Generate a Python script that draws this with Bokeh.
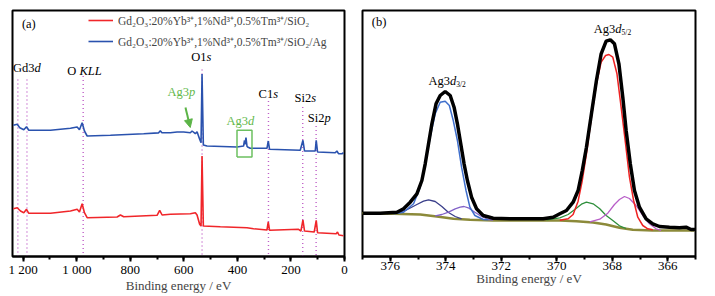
from bokeh.plotting import figure
from bokeh.layouts import row
from bokeh.models import (Range1d, SingleIntervalTicker, Legend, LegendItem,
                          Arrow, NormalHead, ColumnDataSource)
from bokeh.core.properties import value, field
from bokeh.embed import file_html
from bokeh.resources import INLINE

FONT = "Liberation Serif"

# ---------------- panel (a): survey spectra ----------------
survey_blue_e = [1237, 1222.4, 1212.7, 1197.8, 1187.7, 1179.1, 1098.1, 1023.5, 998.5, 989.9,
                 979.9, 971.3, 961.2, 874.3, 750, 695, 688, 682, 650.4, 625.4, 600.7, 575.7,
                 569.4, 557.1, 550.7, 541, 535.8, 532.1, 527.2, 513.4, 401.5, 376.9, 373.5,
                 371.5, 368, 364, 361.9, 351.9, 289.6, 284.7, 279.9, 165.3, 155.2, 149.3,
                 109.3, 105.6, 100.7, 34.7, 28.4, 22.4, 9.7, 3.7]
survey_blue_i = [131.2, 132.2, 128.8, 126.8, 129.8, 126.2, 126.2, 128.2, 129.5, 126.8,
                 133.8, 125.5, 120.5, 121.2, 122.8, 123.6, 125.8, 123.8, 123.8, 124.5, 124.5, 123.8,
                 125.5, 122.8, 124.8, 117.2, 113.8, 182.5, 111.5, 110.5, 109.5, 110.5, 116,
                 112, 119, 110, 109.5, 108.2, 108.2, 115.5, 107.2, 106.2, 116.2, 105.5,
                 105.5, 116.2, 104.5, 103.8, 105.5, 102.8, 102.8, 103.8]

survey_red_e = [1237, 1222.4, 1210.1, 1197.8, 1187.7, 1179.1, 1098.1, 1023.5, 998.5, 989.9,
                979.9, 971.3, 961.2, 849.3, 836.9, 824.6, 700, 690.3, 681.3, 650.4, 575.7,
                557.1, 550.7, 541, 535.8, 532.1, 527.2, 463.8, 364.2, 339.6, 289.6, 284.7,
                279.9, 171.6, 162.7, 155.2, 149.3, 113.1, 105.6, 100.7, 31, 26.1, 20.9, 3.7]
survey_red_i = [47.8, 48.8, 45.5, 43.8, 47.2, 43.2, 43.2, 45.5, 47.2, 44.5,
                52.8, 43.8, 38.8, 39.5, 41.5, 39.8, 41.2, 46.2, 41.5, 42.2, 42.8,
                43.8, 41.5, 32.2, 30.5, 100.5, 30.5, 29.8, 28.8, 27.8, 26.5, 34.5,
                26.2, 27.2, 25.5, 36.5, 25.5, 24.5, 36.2, 23.8, 22.8, 24.5, 21.5, 20.8]

peak_line_e = [1220, 1186, 976, 532, 284, 156, 106]
peak_line_top = [177, 177, 180.5, 187, 155.5, 149.5, 130.5]

legend_labels = ["Gd\u2082O\u2083:20%Yb\u00b3\u207a,1%Nd\u00b3\u207a,0.5%Tm\u00b3\u207a/SiO\u2082",
                 "Gd\u2082O\u2083:20%Yb\u00b3\u207a,1%Nd\u00b3\u207a,0.5%Tm\u00b3\u207a/SiO\u2082/Ag"]

a_ticks_override = {1200: "1 200", 1000: "1 000"}

# label: (pieces, energy, intensity, color)   pieces: (text, italic?)
a_labels = [
    ([("(a)", False)], 1179, 233, "black"),
    ([("Gd3", False), ("d", True)], 1186, 189, "black"),
    ([("O ", False), ("KLL", True)], 971, 186, "black"),
    ([("O1", False), ("s", True)], 534.7, 199.5, "black"),
    ([("Ag3", False), ("p", True)], 609, 165, "#62b84a"),
    ([("Ag3", False), ("d", True)], 389, 135.5, "#62b84a"),
    ([("C1", False), ("s", True)], 284.7, 162.2, "black"),
    ([("Si2", False), ("s", True)], 146.6, 158.8, "black"),
    ([("Si2", False), ("p", True)], 94.4, 138.2, "black"),
]
ag3p_arrow = dict(x_start=594, y_start=149, x_end=576, y_end=129)
ag3d_box = dict(left=401.5, right=345.5, top=126.2, bottom=99.5)

# ---------------- panel (b): Ag3d high resolution ----------------
env_e = [376.98, 376.36, 375.76, 375.52, 375.28, 375.04, 374.86, 374.74, 374.62, 374.50,
         374.35, 374.20, 374.02, 373.84, 373.70, 373.58, 373.46, 373.34, 373.22, 373.07,
         372.89, 372.65, 372.29, 371.69, 371.09, 370.49, 370.13, 369.89, 369.65, 369.41,
         369.23, 369.08, 368.93, 368.75, 368.57, 368.40, 368.22, 368.07, 367.92, 367.76,
         367.62, 367.50, 367.35, 367.20, 367.02, 366.78, 366.54, 366.30, 365.94, 365.58,
         365.34, 365.16, 365.0]
env_i = [43.3, 43.3, 44.3, 47.7, 54.3, 62.7, 76, 92.7, 112.7, 132.7,
         152.7, 161, 165, 161, 149.3, 132.7, 112.7, 92.7, 76, 59.3,
         47.7, 41, 38.3, 37.7, 37.7, 37.7, 39.3, 42.7, 46, 54.3,
         66, 86, 109.3, 142.7, 176, 202.7, 215.3, 216.7, 212.7, 192.7,
         159.3, 126, 92.7, 66, 49.3, 37.7, 32.7, 30, 29.3, 28.7,
         29.3, 27, 27]

d32_e = [375.88, 375.52, 375.16, 374.92, 374.74, 374.56, 374.38, 374.20, 374.02, 373.87,
         373.73, 373.58, 373.43, 373.27, 373.13, 372.95, 372.65, 372.47]
d32_i = [42.7, 44.3, 52.7, 69.3, 92.7, 119.3, 142.7, 154.3, 155.3, 151,
         136, 116, 89.3, 66, 49.3, 41, 37, 36.7]

navy_e = [376.12, 375.76, 375.40, 375.04, 374.80, 374.62, 374.38, 374.14, 373.90, 373.66, 373.43]
navy_i = [43, 43.7, 46.7, 52, 55.3, 56.7, 55, 50, 44, 40, 37.7]

purple_e = [374.38, 374.14, 373.90, 373.66, 373.48, 373.34, 373.19, 372.95, 372.71, 372.47, 372.29]
purple_i = [40.7, 42, 44.3, 47.7, 49.3, 50, 48.7, 44.3, 40, 37, 36.3]

green_e = [370.37, 369.89, 369.59, 369.35, 369.11, 368.93, 368.69, 368.45, 368.22, 367.98, 367.74, 367.50]
green_i = [36.7, 38.7, 42, 47, 52.3, 54.3, 52.7, 47.7, 41, 36, 30.7, 28]

d52_e = [369.89, 369.59, 369.41, 369.23, 369.08, 368.93, 368.75, 368.57, 368.40, 368.24,
         368.12, 367.98, 367.83, 367.68, 367.52, 367.38, 367.23, 367.08, 366.90, 366.72, 366.54]
d52_i = [36.3, 37.7, 42, 55.3, 76, 102.7, 139.3, 172.7, 194.3, 201,
         202, 199.3, 182.7, 149.3, 112.7, 79.3, 56, 39.3, 31, 27.7, 26.7]

magenta_e = [368.81, 368.45, 368.16, 367.92, 367.74, 367.56, 367.38, 367.14, 366.90, 366.66, 366.42, 366.24]
magenta_i = [34.7, 37.3, 43.3, 52, 57, 60, 58, 51, 41, 32.7, 27.7, 26]

bg_e = [377.02, 375.88, 374.92, 374.32, 373.72, 373.13, 372.29, 371.09, 369.89, 369.29,
        368.69, 368.22, 367.74, 367.26, 366.54, 365.70, 365.04]
bg_i = [43.3, 42.7, 42, 40, 37.7, 36.7, 36, 36, 36, 35.3,
        34, 32, 28.7, 26.7, 26, 26, 26]

b_labels = [
    ([("(b)", False, 12.5, 0)], 376.40, 234.3),
    ([("Ag3", False, 12.5, 0), ("d", True, 12.5, 0), ("3/2", False, 7.5, 4)], 373.95, 176),
    ([("Ag3", False, 12.5, 0), ("d", True, 12.5, 0), ("5/2", False, 7.5, 4)], 367.99, 227.7),
]

# ---------------- helpers ----------------
W_REG = {'A': .722, 'g': .5, 'd': .5, 'G': .722, 'O': .722, ' ': .25, 'K': .722, 'L': .611,
         's': .389, 'C': .667, 'S': .556, 'i': .278, 'p': .5, '(': .333, ')': .333,
         'a': .444, 'b': .5, '/': .278}
W_IT = {'d': .5, 's': .389, 'p': .5, 'K': .667, 'L': .556}


def add_label(p, x, y, pieces, color):
    widths = []
    for t, it, sz, dy in pieces:
        tbl = W_IT if it else W_REG
        widths.append(sum(tbl.get(c, 0.5) for c in t) * sz)
    total = sum(widths)
    xo, cur = [], -total / 2
    for w in widths:
        xo.append(cur)
        cur += w
    n = len(pieces)
    src = ColumnDataSource(dict(
        x=[x] * n, y=[y] * n, text=[pc[0] for pc in pieces], xo=xo,
        yo=[pc[3] for pc in pieces],
        st=["italic" if pc[1] else "normal" for pc in pieces],
        sz=["%gpx" % pc[2] for pc in pieces]))
    p.text(x="x", y="y", text="text", x_offset="xo", y_offset="yo", source=src,
           text_font=value(FONT), text_font_style=field("st"), text_font_size=field("sz"),
           text_color=color, text_align="left", text_baseline="middle")


def style(p, interval):
    p.xgrid.visible = False
    p.ygrid.visible = False
    p.outline_line_color = "black"
    p.outline_line_width = 2
    p.outline_line_alpha = 1
    ax = p.xaxis[0]
    ax.ticker = SingleIntervalTicker(interval=interval, num_minor_ticks=2)
    ax.axis_line_width = 2
    ax.major_tick_line_width = 2
    ax.minor_tick_line_width = 2
    ax.major_tick_in = 0
    ax.major_tick_out = 5
    ax.minor_tick_in = 0
    ax.minor_tick_out = 3
    ax.major_label_standoff = 0
    ax.major_label_text_font = FONT
    ax.major_label_text_font_size = "13px"
    ax.major_label_text_color = "black"
    ax.axis_label = "Binding energy / eV"
    ax.axis_label_text_font = FONT
    ax.axis_label_text_font_size = "13px"
    ax.axis_label_text_font_style = "normal"
    ax.axis_label_standoff = -2


# ---------------- figure (a) ----------------
pa = figure(width=352, height=296, output_backend="svg", toolbar_location=None,
            x_range=Range1d(1240, 0), y_range=Range1d(0, 246), y_axis_location=None,
            title=None, min_border_left=12, min_border_right=8, min_border_top=10,
            min_border_bottom=40, background_fill_color="white", border_fill_color="white")
style(pa, 200)
pa.xaxis[0].major_label_overrides = a_ticks_override

pa.segment(x0=peak_line_e, y0=peak_line_top, x1=peak_line_e, y1=[0] * len(peak_line_e),
           line_color="#c060c8", line_width=1.4, line_dash="1 3")
r_red = pa.line(survey_red_e, survey_red_i, line_color="#f0262a", line_width=1.6)
r_blue = pa.line(survey_blue_e, survey_blue_i, line_color="#2a52ae", line_width=1.6)

bx = [ag3d_box["left"], ag3d_box["right"], ag3d_box["right"], ag3d_box["left"], ag3d_box["left"]]
by = [ag3d_box["bottom"], ag3d_box["bottom"], ag3d_box["top"], ag3d_box["top"], ag3d_box["bottom"]]
pa.line(bx, by, line_color="#6cc060", line_width=1.5)

pa.add_layout(Arrow(end=NormalHead(size=8, fill_color="#5cb447", line_color="#5cb447"),
                    line_color="#5cb447", line_width=2, **ag3p_arrow))

for pieces, x, y, col in a_labels:
    add_label(pa, x, y, [(t, it, 12.5, 0) for t, it in pieces], col)

legend = Legend(items=[LegendItem(label=legend_labels[0], renderers=[r_red]),
                       LegendItem(label=legend_labels[1], renderers=[r_blue])],
                location=(76, 205), glyph_width=25, glyph_height=20, label_height=20,
                spacing=1, padding=0, margin=0, label_standoff=5,
                border_line_alpha=0, background_fill_alpha=0,
                label_text_font=FONT, label_text_font_size="11.5px")
pa.add_layout(legend)

# ---------------- figure (b) ----------------
pb = figure(width=363, height=296, output_backend="svg", toolbar_location=None,
            x_range=Range1d(377, 365), y_range=Range1d(0, 246), y_axis_location=None,
            title=None, min_border_left=10, min_border_right=20, min_border_top=10,
            min_border_bottom=40, background_fill_color="white", border_fill_color="white")
style(pb, 2)

pb.line(bg_e, bg_i, line_color="#8c8a3a", line_width=2.5)
pb.line(navy_e, navy_i, line_color="#3a3f8a", line_width=1.3)
pb.line(purple_e, purple_i, line_color="#8262c8", line_width=1.3)
pb.line(green_e, green_i, line_color="#2f8f3c", line_width=1.3)
pb.line(magenta_e, magenta_i, line_color="#b85ec8", line_width=1.3)
pb.line(d32_e, d32_i, line_color="#3f6fcc", line_width=1.5)
pb.line(d52_e, d52_i, line_color="#ee2222", line_width=1.5)
pb.line(env_e, env_i, line_color="black", line_width=3.5)

for pieces, x, y in b_labels:
    add_label(pb, x, y, pieces, "black")

layout = row(pa, pb)
open("out.html", "w").write(file_html(layout, INLINE))
